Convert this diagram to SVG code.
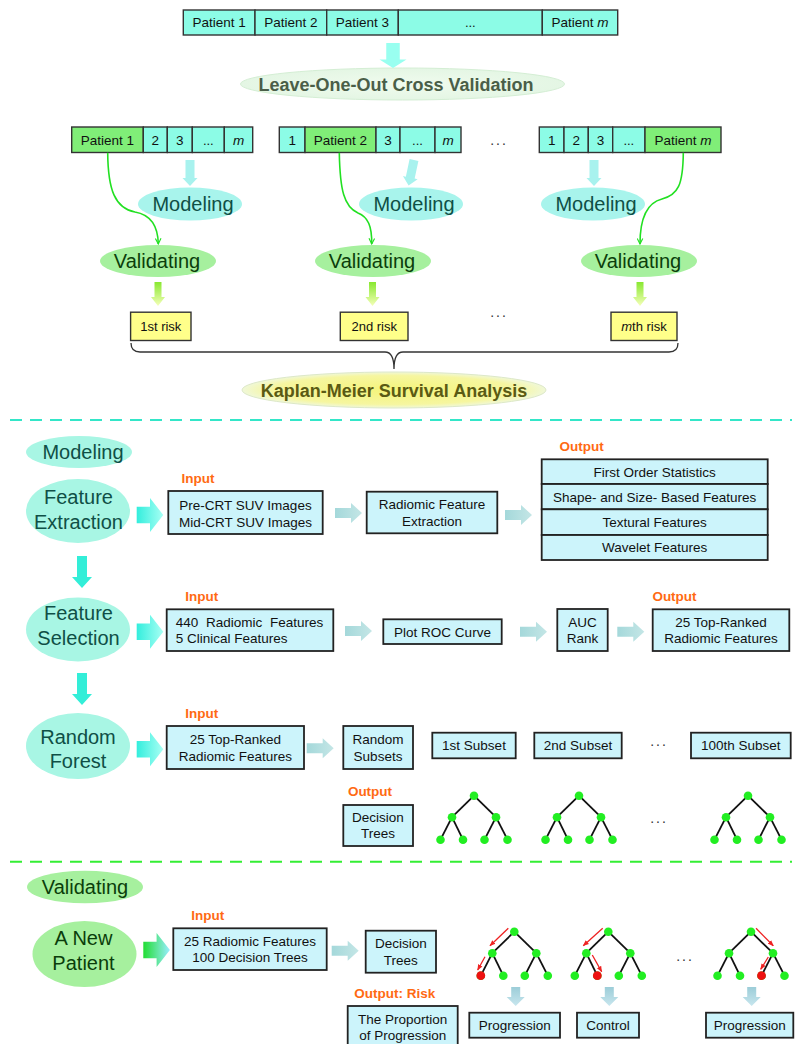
<svg xmlns="http://www.w3.org/2000/svg" xmlns:xlink="http://www.w3.org/1999/xlink" width="798" height="1044" viewBox="0 0 798 1044">
<style>
text{font-family:"Liberation Sans",Arial,sans-serif;text-anchor:middle}
.t{font-size:13.5px;fill:#111}
.s{font-size:13px;fill:#111}
.big{font-size:20px;fill:#0f4f46}
.vt{font-size:20px;fill:#0b3e0b}
.lbl{font-size:13.5px;font-weight:bold;fill:#ff6a13}
.box{fill:#ccf4fb;stroke:#222;stroke-width:1.8}
.cell{fill:#8cfce6;stroke:#333;stroke-width:1.4}
.gcell{fill:#80ee78;stroke:#333;stroke-width:1.4}
.risk{fill:#ffff8a;stroke:#333;stroke-width:1.4}
.mod{fill:#a8f4ec}
.modS{fill:#a8f6e4}
.val{fill:#a6f09e}
.gcurve{fill:none;stroke:#22e022;stroke-width:1.6;marker-end:url(#gArr)}
.red{stroke:#ee2222;stroke-width:1.3;marker-end:url(#rArr)}
.edge{stroke:#111;stroke-width:1.8}
.gn{fill:#22ee22}
.rn{fill:#ee1111}
.dots{font-size:14px;fill:#333;letter-spacing:2px}
</style>
<defs>
<linearGradient id="cyanR" x1="0" y1="0" x2="1" y2="0"><stop offset="0" stop-color="#33eedd"/><stop offset="1" stop-color="#a8fff4"/></linearGradient>
<linearGradient id="greenR" x1="0" y1="0" x2="1" y2="0"><stop offset="0" stop-color="#22dd33"/><stop offset="1" stop-color="#99eeff"/></linearGradient>
<linearGradient id="grayR" x1="0" y1="0" x2="1" y2="0"><stop offset="0" stop-color="#a4d8da"/><stop offset="1" stop-color="#c4e6e6"/></linearGradient>
<linearGradient id="grayD" x1="0" y1="0" x2="0" y2="1"><stop offset="0" stop-color="#9ccdd8"/><stop offset="1" stop-color="#c8e6ee"/></linearGradient>
<linearGradient id="ygD" x1="0" y1="0" x2="0" y2="1"><stop offset="0" stop-color="#88e830"/><stop offset="1" stop-color="#f4ffb8"/></linearGradient>
<radialGradient id="kmG" cx="0.5" cy="0.5" r="0.5"><stop offset="0" stop-color="#f4f47a"/><stop offset="0.8" stop-color="#f6f6a0"/><stop offset="1" stop-color="#f0f8d8"/></radialGradient>
<radialGradient id="looG" cx="0.5" cy="0.5" r="0.5"><stop offset="0" stop-color="#f0fbee"/><stop offset="1" stop-color="#e4f6e4"/></radialGradient>
<path id="bigR" d="M0,-8.3 H13.3 V-17 L26.6,0 L13.3,17 V8.3 H0 Z"/>
<path id="smR" d="M0,-5 H16 V-10 L27,0 L16,10 V5 H0 Z"/>
<path id="bigD" d="M-5,0 H5 V21 H10 L0,32 L-10,21 H-5 Z"/>
<path id="smD" d="M-4.5,0 H4.5 V18 H7.5 L0,26 L-7.5,18 H-4.5 Z"/>
<path id="ygArrow" d="M-3.5,0 H3.5 V15 H7 L0,24 L-7,15 H-3.5 Z"/>
<path id="grD" d="M-4.5,0 H4.5 V10 H9 L0,19 L-9,10 H-4.5 Z"/>
<marker id="gArr" viewBox="0 0 10 10" refX="9" refY="5" markerWidth="7" markerHeight="7" markerUnits="userSpaceOnUse" orient="auto"><path d="M1,1 L9,5 L1,9" fill="none" stroke="#22e022" stroke-width="1.6"/></marker>
<marker id="rArr" viewBox="0 0 10 10" refX="9" refY="5" markerWidth="6" markerHeight="6" markerUnits="userSpaceOnUse" orient="auto"><path d="M0,1 L10,5 L0,9 Z" fill="#ee2222"/></marker>
<g id="tree">
<line class="edge" x1="0" y1="0" x2="-22" y2="21.5"/><line class="edge" x1="0" y1="0" x2="22" y2="21.5"/>
<line class="edge" x1="-22" y1="21.5" x2="-33.5" y2="44"/><line class="edge" x1="-22" y1="21.5" x2="-11" y2="44"/>
<line class="edge" x1="22" y1="21.5" x2="10.5" y2="44"/><line class="edge" x1="22" y1="21.5" x2="33.5" y2="44"/>
<circle class="gn" cx="0" cy="0" r="4.3"/><circle class="gn" cx="-22" cy="21.5" r="4.3"/><circle class="gn" cx="22" cy="21.5" r="4.3"/>
<circle class="gn" cx="-33.5" cy="44" r="4.3"/><circle class="gn" cx="-11" cy="44" r="4.3"/><circle class="gn" cx="10.5" cy="44" r="4.3"/><circle class="gn" cx="33.5" cy="44" r="4.3"/>
</g>
</defs>
<rect width="798" height="1044" fill="#ffffff"/>

<!-- top patient bar -->
<g id="patientBar">
<rect class="cell" x="183.3" y="10" width="71.7" height="25"/>
<rect class="cell" x="255" y="10" width="71.7" height="25"/>
<rect class="cell" x="326.7" y="10" width="71.6" height="25"/>
<rect class="cell" x="398.3" y="10" width="144" height="25"/>
<rect class="cell" x="542.3" y="10" width="75.4" height="25"/>
<text class="t" x="219.2" y="27.3">Patient 1</text>
<text class="t" x="290.8" y="27.3">Patient 2</text>
<text class="t" x="362.5" y="27.3">Patient 3</text>
<text class="s" x="470.3" y="27.3">...</text>
<text class="t" x="580" y="27.3">Patient <tspan font-style="italic">m</tspan></text>
</g>

<g id="loocv">
<ellipse cx="402.5" cy="84" rx="162" ry="16" fill="url(#looG)" stroke="#d4eed4" stroke-width="1"/>
<text x="396" y="90.5" style="font-size:18px;font-weight:bold;fill:#4a5e48">Leave-One-Out Cross Validation</text>
</g>

<!-- fold bars -->
<g id="fold1">
<rect class="gcell" x="71.7" y="127" width="71.6" height="25.5"/>
<rect class="cell" x="143.3" y="127" width="24" height="25.5"/>
<rect class="cell" x="167.3" y="127" width="25" height="25.5"/>
<rect class="cell" x="192.3" y="127" width="32" height="25.5"/>
<rect class="cell" x="224.3" y="127" width="28.4" height="25.5"/>
<text class="t" x="107.5" y="144.5">Patient 1</text>
<text class="t" x="155.3" y="144.5">2</text>
<text class="t" x="179.8" y="144.5">3</text>
<text class="s" x="208.3" y="144.5">...</text>
<text class="t" x="238.5" y="144.5" font-style="italic">m</text>
</g>
<g id="fold2">
<rect class="cell" x="279.3" y="127" width="25.7" height="25.5"/>
<rect class="gcell" x="305" y="127" width="71" height="25.5"/>
<rect class="cell" x="376" y="127" width="24" height="25.5"/>
<rect class="cell" x="400" y="127" width="35" height="25.5"/>
<rect class="cell" x="435" y="127" width="26" height="25.5"/>
<text class="t" x="292.2" y="144.5">1</text>
<text class="t" x="340.5" y="144.5">Patient 2</text>
<text class="t" x="388" y="144.5">3</text>
<text class="s" x="417.5" y="144.5">...</text>
<text class="t" x="448" y="144.5" font-style="italic">m</text>
</g>
<text class="dots" x="499" y="145">...</text>
<g id="foldm">
<rect class="cell" x="539.3" y="127" width="24.7" height="25.5"/>
<rect class="cell" x="564" y="127" width="24.3" height="25.5"/>
<rect class="cell" x="588.3" y="127" width="24.4" height="25.5"/>
<rect class="cell" x="612.7" y="127" width="32.3" height="25.5"/>
<rect class="gcell" x="645" y="127" width="76" height="25.5"/>
<text class="t" x="551.7" y="144.5">1</text>
<text class="t" x="576.2" y="144.5">2</text>
<text class="t" x="600.5" y="144.5">3</text>
<text class="s" x="628.8" y="144.5">...</text>
<text class="t" x="683" y="144.5">Patient <tspan font-style="italic">m</tspan></text>
</g>

<g id="modeling1"><ellipse class="mod" cx="190" cy="204" rx="52" ry="16.5"/><text class="big" x="193" y="211">Modeling</text></g>
<g id="modeling2"><ellipse class="mod" cx="411" cy="204" rx="52" ry="16.5"/><text class="big" x="414" y="211">Modeling</text></g>
<g id="modelingm"><ellipse class="mod" cx="593" cy="204" rx="52" ry="16.5"/><text class="big" x="596" y="211">Modeling</text></g>

<g id="validating1"><ellipse class="val" cx="158" cy="261" rx="58" ry="16"/><text class="vt" x="157" y="268">Validating</text></g>
<g id="validating2"><ellipse class="val" cx="373" cy="261" rx="58" ry="16"/><text class="vt" x="372" y="268">Validating</text></g>
<g id="validatingm"><ellipse class="val" cx="639" cy="261" rx="58" ry="16"/><text class="vt" x="638" y="268">Validating</text></g>

<g id="risk1"><rect class="risk" x="130.6" y="312.2" width="60.4" height="28.3"/><text class="s" x="160.8" y="331">1st risk</text></g>
<g id="risk2"><rect class="risk" x="340.3" y="312.2" width="67.7" height="28.3"/><text class="s" x="374.2" y="331">2nd risk</text></g>
<text class="dots" x="499" y="317">...</text>
<g id="riskm"><rect class="risk" x="611" y="312.2" width="66" height="28.3"/><text class="s" x="644" y="331"><tspan font-style="italic">m</tspan>th risk</text></g>

<g id="kaplan">
<ellipse cx="394" cy="390" rx="152" ry="18" fill="url(#kmG)" stroke="#dde8c8" stroke-width="1"/>
<text x="394" y="396.5" style="font-size:18px;font-weight:bold;fill:#5a5a14">Kaplan-Meier Survival Analysis</text>
</g>

<!-- section divider 1 -->
<line x1="10" y1="420" x2="792" y2="420" stroke="#33e6c8" stroke-width="2" stroke-dasharray="12,8"/>

<g id="modelingHdr"><ellipse class="modS" cx="79" cy="452" rx="53" ry="16"/><text class="big" x="83" y="459">Modeling</text></g>

<g id="featureExtraction"><ellipse class="modS" cx="78" cy="511" rx="52" ry="32"/><text class="big" x="78.5" y="504">Feature</text><text class="big" x="78.5" y="528.7">Extraction</text></g>
<text class="lbl" x="198" y="483">Input</text>
<g id="feInput"><rect class="box" x="168.3" y="491" width="154.4" height="43"/><text class="t" x="245.5" y="510">Pre-CRT SUV Images</text><text class="t" x="245.5" y="526.7">Mid-CRT SUV Images</text></g>
<g id="rfe"><rect class="box" x="366.7" y="491.7" width="130.6" height="41.6"/><text class="t" x="432" y="509">Radiomic Feature</text><text class="t" x="432" y="525.7">Extraction</text></g>
<text class="lbl" x="581.7" y="450.7">Output</text>
<g id="feOutput">
<rect class="box" x="541.7" y="459.3" width="226" height="24.7"/>
<rect class="box" x="541.7" y="484" width="226" height="25.3"/>
<rect class="box" x="541.7" y="509.3" width="226" height="25.7"/>
<rect class="box" x="541.7" y="535" width="226" height="25"/>
<text class="t" x="654.7" y="476.5">First Order Statistics</text>
<text class="t" x="654.7" y="501.5">Shape- and Size- Based Features</text>
<text class="t" x="654.7" y="527">Textural Features</text>
<text class="t" x="654.7" y="552.3">Wavelet Features</text>
</g>

<g id="featureSelection"><ellipse class="modS" cx="78" cy="629.5" rx="52" ry="32"/><text class="big" x="78.5" y="620.3">Feature</text><text class="big" x="78.5" y="645.3">Selection</text></g>
<text class="lbl" x="201.7" y="601">Input</text>
<g id="fsInput"><rect class="box" x="166.7" y="609.3" width="166.6" height="41.7"/><text class="t" x="175.7" y="627" style="text-anchor:start" word-spacing="4">440 Radiomic Features</text><text class="t" x="175.7" y="643" style="text-anchor:start">5 Clinical Features</text></g>
<g id="roc"><rect class="box" x="383.3" y="619.3" width="118.4" height="24.7"/><text class="t" x="442.5" y="636.6">Plot ROC Curve</text></g>
<g id="auc"><rect class="box" x="557.3" y="609" width="50.4" height="42"/><text class="t" x="582.5" y="626.5">AUC</text><text class="t" x="582.5" y="643">Rank</text></g>
<text class="lbl" x="674.5" y="601">Output</text>
<g id="fsOutput"><rect class="box" x="652.7" y="609.3" width="136.6" height="41.7"/><text class="t" x="721" y="626.5">25 Top-Ranked</text><text class="t" x="721" y="643">Radiomic Features</text></g>

<g id="randomForest"><ellipse class="modS" cx="78" cy="746" rx="52" ry="33"/><text class="big" x="78" y="743.7">Random</text><text class="big" x="78" y="768">Forest</text></g>
<text class="lbl" x="201.7" y="717.7">Input</text>
<g id="rfInput"><rect class="box" x="166.7" y="726" width="137.3" height="43"/><text class="t" x="235.3" y="744">25 Top-Ranked</text><text class="t" x="235.3" y="760.5">Radiomic Features</text></g>
<g id="randomSubsets"><rect class="box" x="343.3" y="726" width="69.7" height="43"/><text class="t" x="378" y="744">Random</text><text class="t" x="378" y="760.5">Subsets</text></g>
<g id="subset1"><rect class="box" x="432.3" y="732.7" width="83.4" height="25.6"/><text class="t" x="474" y="750.3">1st Subset</text></g>
<g id="subset2"><rect class="box" x="534.3" y="732.7" width="87.4" height="25.6"/><text class="t" x="578" y="750.3">2nd Subset</text></g>
<text class="dots" x="659" y="746">...</text>
<g id="subset100"><rect class="box" x="691" y="732.7" width="99.7" height="25.6"/><text class="t" x="740.8" y="750.3">100th Subset</text></g>
<text class="lbl" x="370" y="795.7">Output</text>
<g id="rfTrees"><rect class="box" x="343.3" y="805" width="69.7" height="41"/><text class="t" x="378" y="821.5">Decision</text><text class="t" x="378" y="838">Trees</text></g>
<g id="tree1"><use xlink:href="#tree" href="#tree" x="474" y="795.7"/></g>
<g id="tree2"><use xlink:href="#tree" href="#tree" x="579" y="795.7"/></g>
<text class="dots" x="659" y="823">...</text>
<g id="tree3"><use xlink:href="#tree" href="#tree" x="748" y="795.7"/></g>

<!-- section divider 2 -->
<line x1="10" y1="861.7" x2="792" y2="861.7" stroke="#33ee33" stroke-width="2" stroke-dasharray="12,8"/>

<g id="validatingHdr"><ellipse class="val" cx="85" cy="887" rx="58" ry="16.3"/><text class="vt" x="85" y="894">Validating</text></g>
<g id="newPatient"><ellipse class="val" cx="84.5" cy="954" rx="52" ry="33"/><text class="vt" x="83.5" y="945.3">A New</text><text class="vt" x="83.5" y="970.3">Patient</text></g>
<text class="lbl" x="207.8" y="920">Input</text>
<g id="valInput"><rect class="box" x="173.3" y="928.3" width="153.4" height="41.7"/><text class="t" x="250" y="945.5">25 Radiomic Features</text><text class="t" x="250" y="962">100 Decision Trees</text></g>
<g id="valTrees"><rect class="box" x="365.7" y="930.7" width="70.3" height="42"/><text class="t" x="400.8" y="948">Decision</text><text class="t" x="400.8" y="964.8">Trees</text></g>
<text class="lbl" x="394.7" y="997.7">Output: Risk</text>
<g id="proportion"><rect class="box" x="347.7" y="1006" width="110" height="42"/><text class="t" x="402.7" y="1024">The Proportion</text><text class="t" x="402.7" y="1040">of Progression</text></g>

<g id="treeA"><use xlink:href="#tree" href="#tree" x="514.3" y="931.7"/><circle class="rn" cx="480.8" cy="975.7" r="4.4"/></g>
<g id="treeB"><use xlink:href="#tree" href="#tree" x="608.3" y="931.7"/><circle class="rn" cx="597.3" cy="975.7" r="4.4"/></g>
<text class="dots" x="685" y="961">...</text>
<g id="treeC"><use xlink:href="#tree" href="#tree" x="751" y="931.7"/><circle class="rn" cx="761.5" cy="975.7" r="4.4"/></g>

<g id="result1"><rect class="box" x="469.3" y="1012.7" width="90.7" height="25"/><text class="t" x="514.7" y="1030">Progression</text></g>
<g id="result2"><rect class="box" x="577" y="1012.7" width="62" height="25"/><text class="t" x="608" y="1030">Control</text></g>
<g id="result3"><rect class="box" x="706" y="1012.7" width="87.3" height="25"/><text class="t" x="749.7" y="1030">Progression</text></g>

<!-- connectors -->
<g id="connectors">
<use xlink:href="#bigD" href="#bigD" transform="translate(393,43) scale(1.35,0.78)" fill="#99fff0"/>
<use xlink:href="#smD" href="#smD" x="190" y="160" fill="#a8f2ee"/>
<use xlink:href="#smD" href="#smD" transform="translate(414,160) rotate(12)" fill="#a8f2ee"/>
<use xlink:href="#smD" href="#smD" x="594" y="160" fill="#a8f2ee"/>
<path class="gcurve" d="M107.7,152.7 C108,190 115,208 135,212 C152,215 158,228 158.3,244"/>
<path class="gcurve" d="M339.3,152.7 C340,190 344,207 358,213 C368,217 372,226 371.7,244"/>
<path class="gcurve" d="M683.3,152.7 C683,185 678,195 662,199 C646,203 640,220 640,244"/>
<use xlink:href="#ygArrow" href="#ygArrow" x="158" y="282" fill="url(#ygD)"/>
<use xlink:href="#ygArrow" href="#ygArrow" x="372.5" y="282" fill="url(#ygD)"/>
<use xlink:href="#ygArrow" href="#ygArrow" x="640" y="282" fill="url(#ygD)"/>
<path d="M131,343 Q131,352 140,352 H385 Q394,352 394,369 Q394,352 403,352 H669 Q678,352 678,343" fill="none" stroke="#333" stroke-width="1.3"/>
<use xlink:href="#bigR" href="#bigR" x="136.7" y="515" fill="url(#cyanR)"/>
<use xlink:href="#smR" href="#smR" x="335" y="513" fill="url(#grayR)"/>
<use xlink:href="#smR" href="#smR" x="505" y="515" fill="url(#grayR)"/>
<use xlink:href="#bigD" href="#bigD" x="82" y="556" fill="#33eed8"/>
<use xlink:href="#bigR" href="#bigR" x="136.7" y="631.7" fill="url(#cyanR)"/>
<use xlink:href="#smR" href="#smR" x="345" y="631" fill="url(#grayR)"/>
<use xlink:href="#smR" href="#smR" x="520" y="631.7" fill="url(#grayR)"/>
<use xlink:href="#smR" href="#smR" x="617.3" y="631.7" fill="url(#grayR)"/>
<use xlink:href="#bigD" href="#bigD" x="82" y="673" fill="#33eed8"/>
<use xlink:href="#bigR" href="#bigR" x="136.7" y="749.3" fill="url(#cyanR)"/>
<use xlink:href="#smR" href="#smR" x="306.7" y="748.3" fill="url(#grayR)"/>
<use xlink:href="#bigR" href="#bigR" x="143.3" y="950" fill="url(#greenR)"/>
<use xlink:href="#smR" href="#smR" x="331.7" y="950.7" fill="url(#grayR)"/>
<line class="red" x1="508.3" y1="928.3" x2="490" y2="945.7"/>
<line class="red" x1="485" y1="956.7" x2="477.7" y2="970"/>
<line class="red" x1="602.7" y1="928.3" x2="583.3" y2="945.7"/>
<line class="red" x1="592.3" y1="955" x2="601.7" y2="971.7"/>
<line class="red" x1="756" y1="928.3" x2="773.3" y2="945.7"/>
<line class="red" x1="768.3" y1="957" x2="760.7" y2="969.3"/>
<use xlink:href="#grD" href="#grD" x="515.7" y="987" fill="url(#grayD)"/>
<use xlink:href="#grD" href="#grD" x="609.3" y="987" fill="url(#grayD)"/>
<use xlink:href="#grD" href="#grD" x="751.7" y="987" fill="url(#grayD)"/>
</g>
</svg>
